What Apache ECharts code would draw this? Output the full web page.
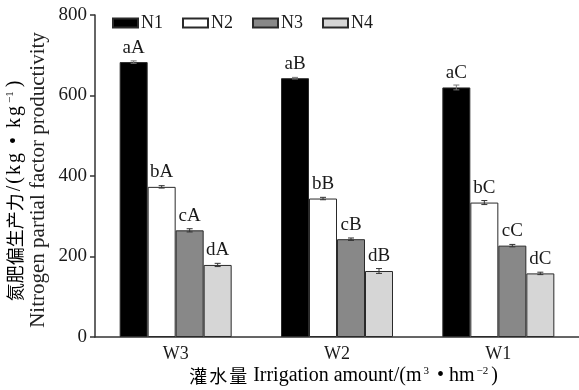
<!DOCTYPE html>
<html>
<head>
<meta charset="utf-8">
<script src="https://cdn.jsdelivr.net/npm/echarts@6/dist/echarts.min.js"></script>
<style>
html,body{margin:0;padding:0;background:#fff;}
#chart{width:579px;height:390px;}
</style>
</head>
<body>
<div id="chart"></div>
<script>
// Irrigation levels and nitrogen treatments
const categories = ['W3', 'W2', 'W1'];
const seriesNames = ['N1', 'N2', 'N3', 'N4'];

// Nitrogen partial factor productivity (kg/kg), one array per nitrogen level
const n1 = [683, 643, 620];
const n2 = [373, 344, 334];
const n3 = [265, 243, 227];
const n4 = [179, 164, 158];

// Standard errors
const n1Err = [3, 2, 6];
const n2Err = [3, 3, 5];
const n3Err = [4, 3, 3];
const n4Err = [4, 6, 3];

// Significance letters
const n1Sig = ['aA', 'aB', 'aC'];
const n2Sig = ['bA', 'bB', 'bC'];
const n3Sig = ['cA', 'cB', 'cC'];
const n4Sig = ['dA', 'dB', 'dC'];

const yTicks = [0, 200, 400, 600, 800];

const values = [n1, n2, n3, n4];
const errors = [n1Err, n2Err, n3Err, n4Err];
const sigs = [n1Sig, n2Sig, n3Sig, n4Sig];
const fills = ['#000000', '#ffffff', '#888888', '#d6d6d6'];

const FONT = "'Liberation Serif', 'Times New Roman', 'Noto Sans CJK SC', serif";
const CJK = "'Noto Sans CJK SC', sans-serif";
const BAR_W = 28;
const INK = '#1a1a1a';

const chart = echarts.init(document.getElementById('chart'), null, {renderer: 'canvas'});

const barSeries = seriesNames.map((name, i) => ({
  name: name,
  type: 'bar',
  barWidth: BAR_W,
  barGap: '0%',
  data: values[i],
  itemStyle: {color: fills[i], borderColor: '#2a2a2a', borderWidth: 1},
  label: {
    show: true,
    position: 'top',
    distance: 5,
    fontFamily: FONT,
    fontSize: 19,
    color: INK,
    formatter: p => sigs[i][p.dataIndex]
  },
  emphasis: {disabled: true}
}));

const errSeries = seriesNames.map((name, i) => ({
  name: name + ' SE',
  type: 'custom',
  z: 5,
  data: categories.map((c, k) => [k, values[i][k], errors[i][k]]),
  encode: {x: 0, y: 1},
  renderItem: (params, api) => {
    const k = api.value(0), v = api.value(1), e = api.value(2);
    const hi = api.coord([k, v + e]);
    const lo = api.coord([k, v - e]);
    const x = hi[0] + (i - 1.5) * BAR_W;
    const cap = 3;
    const st = {stroke: i === 0 ? '#777' : '#333', lineWidth: 1};
    return {
      type: 'group',
      children: [
        {type: 'line', shape: {x1: x, y1: hi[1], x2: x, y2: lo[1]}, style: st},
        {type: 'line', shape: {x1: x - cap, y1: hi[1], x2: x + cap, y2: hi[1]}, style: st},
        {type: 'line', shape: {x1: x - cap, y1: lo[1], x2: x + cap, y2: lo[1]}, style: st}
      ]
    };
  },
  silent: true
}));

// Slightly spaced unit text for the Chinese axis title line
const spaced = s => s.split('').map(ch => '{l|' + ch + '}').join('');
const yTitle1 = '{c|氮肥偏生产力}' + spaced('/(kg • kg') + '{s|−1}{l|)}';
const xTitle = '{c|灌}{c|水}{c|量}{t| Irrigation amount/(m}{s|3}{t| • hm}{s|−2}{t|)}';

const titleRich = {
  c: {fontFamily: CJK, fontSize: 18, color: '#222', padding: [0, 1, 0, 1]},
  l: {fontFamily: FONT, fontSize: 20, color: '#222', padding: [0, 1, 0, 1]},
  t: {fontFamily: FONT, fontSize: 20, color: '#222'},
  s: {fontFamily: FONT, fontSize: 11, color: '#222', verticalAlign: 'top', padding: [0, 3, 9, 2]}
};

const option = {
  backgroundColor: '#ffffff',
  animation: false,
  textStyle: {fontFamily: FONT},
  legend: {
    data: seriesNames,
    left: 107,
    top: 9,
    itemWidth: 25,
    itemHeight: 9,
    itemGap: 19,
    icon: 'rect',
    textStyle: {fontFamily: FONT, fontSize: 18, color: INK, padding: [2, 0, 0, -2]}
  },
  grid: {left: 95, right: -2, top: 15, bottom: 53, containLabel: false},
  xAxis: {
    type: 'category',
    data: categories,
    axisLine: {lineStyle: {color: '#333', width: 1.5}},
    axisTick: {show: false},
    axisLabel: {fontFamily: FONT, fontSize: 18, color: INK, margin: 8},
    splitLine: {show: false}
  },
  yAxis: {
    type: 'value',
    min: yTicks[0],
    max: yTicks[yTicks.length - 1],
    interval: 200,
    axisLine: {show: true, lineStyle: {color: '#333', width: 1.5}},
    axisTick: {show: true, length: 5, lineStyle: {color: '#333', width: 1.5}},
    axisLabel: {fontFamily: FONT, fontSize: 19, color: INK, margin: 8},
    splitLine: {show: false}
  },
  series: barSeries.concat(errSeries),
  graphic: [
    {
      type: 'text',
      x: 5, y: 191,
      rotation: Math.PI / 2,
      style: {text: yTitle1, align: 'center', verticalAlign: 'top', rich: titleRich}
    },
    {
      type: 'text',
      x: 28, y: 180,
      rotation: Math.PI / 2,
      style: {
        text: 'Nitrogen partial factor productivity',
        align: 'center',
        verticalAlign: 'top',
        fontFamily: FONT, fontSize: 21, fill: '#222'
      }
    },
    {
      type: 'text',
      x: 343, y: 366,
      style: {text: xTitle, align: 'center', verticalAlign: 'top', rich: titleRich}
    }
  ]
};

chart.setOption(option);
</script>
</body>
</html>
